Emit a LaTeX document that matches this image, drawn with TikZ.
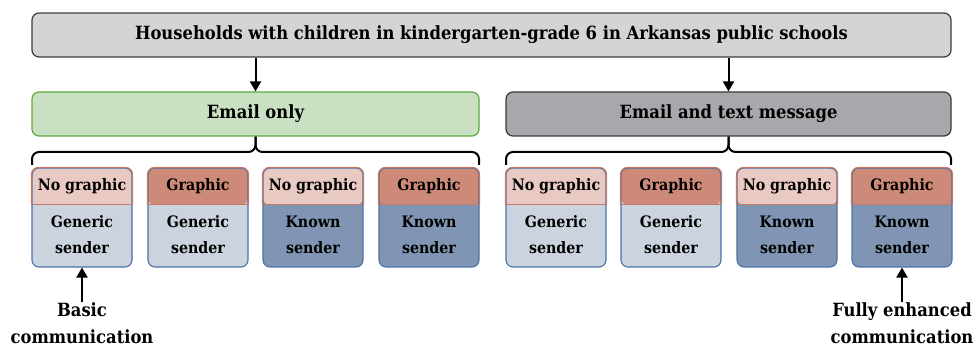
\documentclass[tikz,border=0pt]{standalone}
\usepackage{fontspec}
\setmainfont{DejaVu Serif Condensed}
\usetikzlibrary{arrows.meta}
\definecolor{topfill}{HTML}{D3D4D6}
\definecolor{topdraw}{HTML}{3C3C3C}
\definecolor{greenfill}{HTML}{C9E1C2}
\definecolor{greendraw}{HTML}{5DAA3C}
\definecolor{grayfill}{HTML}{A7A8AB}
\definecolor{grayfilldraw}{HTML}{3A3A3A}
\definecolor{hlight}{HTML}{E8CAC3}
\definecolor{hdark}{HTML}{CE8A78}
\definecolor{hdraw}{HTML}{C47A64}
\definecolor{blight}{HTML}{CBD3DE}
\definecolor{bdark}{HTML}{8095B3}
\definecolor{bdraw}{HTML}{4A72A8}
\tikzset{
  bigbox/.style={draw, line width=1.2pt, rounded corners=7pt, minimum height=44pt, font=\bfseries\fontsize{18.2}{20}\selectfont, inner sep=0pt},
  cellbox/.style={draw=bdraw, line width=1.1pt, rounded corners=7pt, minimum width=100pt, minimum height=99pt, inner sep=0pt},
  celltext/.style={font=\bfseries\fontsize{15.8}{26}\selectfont, align=center, inner sep=0pt},
  notetext/.style={font=\bfseries\fontsize{18.2}{27}\selectfont, align=center, inner sep=0pt},
  conn/.style={line width=2pt, -{Triangle[length=10pt,width=11pt]}},
  brace/.style={line width=2pt, rounded corners=7pt},
}
\newcommand\mycell[6]{% name, center x, head fill, body fill, head text, body text
  \node[cellbox, fill=#4, path picture={\fill[#3] ([yshift=1pt]path picture bounding box.north west) rectangle ([yshift=-37pt]path picture bounding box.north east);}] (#1) at (#2,217.5) {};
  \begin{scope}
    \clip (#2-60,160) rectangle (#2+60,205);
    \draw[draw=hdraw, line width=1.1pt, rounded corners=7pt] (#1.north west) rectangle (#1.south east);
  \end{scope}
  \draw[draw=hdraw, line width=1pt] (#2-50,205) -- (#2+50,205);
  \node[celltext] (#1h) at (#2,186.5) {#5};
  \node[celltext] (#1b) at (#2,235) {#6};
}
\begin{document}
\begin{tikzpicture}[x=1pt,y=-1pt]
\useasboundingbox (0,0) rectangle (977,347);
\node[bigbox, fill=topfill, draw=topdraw, minimum width=919pt] (top) at (491.5,35) {Households with children in kindergarten-grade 6 in Arkansas public schools};
\node[bigbox, fill=greenfill, draw=greendraw, minimum width=447pt] (eo) at (255.5,114) {Email only};
\node[bigbox, fill=grayfill, draw=grayfilldraw, minimum width=445pt] (et) at (728.5,114) {Email and text message};
\draw[conn] (top.south -| eo.north) -- (eo.north);
\draw[conn] (top.south -| et.north) -- (et.north);
% braces
\coordinate (bl1) at (32,165);
\coordinate (br1) at (479,165);
\coordinate (bl2) at (506,165);
\coordinate (br2) at (951,165);
\draw[brace] (eo.south) |- ([yshift=13pt]bl1) -- (bl1);
\draw[brace] (eo.south) |- ([yshift=13pt]br1) -- (br1);
\draw[brace] (et.south) |- ([yshift=13pt]bl2) -- (bl2);
\draw[brace] (et.south) |- ([yshift=13pt]br2) -- (br2);
% cells
\mycell{c1}{82}{hlight}{blight}{No graphic}{Generic\\sender}
\mycell{c2}{198}{hdark}{blight}{Graphic}{Generic\\sender}
\mycell{c3}{313}{hlight}{bdark}{No graphic}{Known\\sender}
\mycell{c4}{429}{hdark}{bdark}{Graphic}{Known\\sender}
\mycell{c5}{556}{hlight}{blight}{No graphic}{Generic\\sender}
\mycell{c6}{671}{hdark}{blight}{Graphic}{Generic\\sender}
\mycell{c7}{787}{hlight}{bdark}{No graphic}{Known\\sender}
\mycell{c8}{902}{hdark}{bdark}{Graphic}{Known\\sender}
% notes
\node[notetext, anchor=north] (basic) at (82,302) {Basic\\communication};
\node[notetext, anchor=north] (full) at (902,302) {Fully enhanced\\communication};
\draw[conn] (basic.north) -- (c1.south);
\draw[conn] (full.north) -- (c8.south);
\end{tikzpicture}
\end{document}
